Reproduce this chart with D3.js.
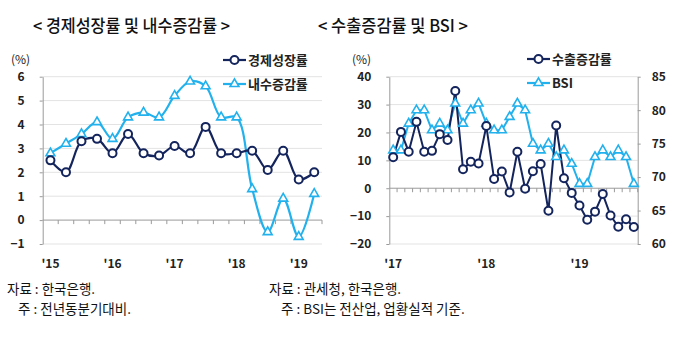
<!DOCTYPE html>
<html>
<head>
<meta charset="utf-8">
<script src="https://cdn.jsdelivr.net/npm/d3@7"></script>
<style>
  body { margin: 0; background: #fff; }
  svg { display: block; font-family: "Noto Sans CJK KR", "Noto Sans", sans-serif; }
</style>
</head>
<body>
<svg id="svg"></svg>
<script>
const width = 676, height = 337;

// left chart: quarterly, 2015Q1 ~ 2019Q2
const quarters = d3.range(18).map(i => `${2015 + Math.floor(i / 4)}Q${i % 4 + 1}`);
const gdpGrowth = [2.5, 2.0, 3.3, 3.4, 2.8, 3.6, 2.8, 2.7, 3.1, 2.8, 3.9, 2.8, 2.8, 2.9, 2.1, 2.9, 1.7, 2.0];
const domesticGrowth = [2.8, 3.2, 3.6, 4.1, 3.4, 4.3, 4.5, 4.3, 5.2, 5.8, 5.6, 4.3, 4.3, 1.3, -0.5, 0.9, -0.7, 1.1];
const leftYearLabels = ["'15", "'16", "'17", "'18", "'19"];
const leftYTicks = [-1, 0, 1, 2, 3, 4, 5, 6];

// right chart: monthly, 2017.1 ~ 2019.8
const months = d3.range(32).map(i => `${2017 + Math.floor(i / 12)}-${i % 12 + 1}`);
const exportGrowth = [11.1, 20.2, 13.1, 23.8, 13.1, 13.4, 19.4, 17.3, 34.9, 6.8, 9.5, 8.9,
                      22.3, 3.3, 6.0, -1.5, 13.1, -0.2, 6.1, 8.7, -8.1, 22.5, 3.6, -1.7,
                      -6.2, -11.3, -8.4, -2.1, -9.8, -13.8, -11.1, -13.9];
const bsi = [74, 74, 78, 80, 80, 77, 78, 77, 81, 78, 80, 81,
             78, 77, 77, 79, 81, 80, 75, 74, 75, 73, 74, 72,
             69, 69, 73, 74, 73, 74, 73, 69];
const rightYearLabels = ["'17", "'18", "'19"];
const rightYTicks = [-20, -10, 0, 10, 20, 30, 40];
const bsiTicks = [60, 65, 70, 75, 80, 85];

const navy = "#14245c", sky = "#22b1ec";
const gridColor = "#e3e3e3", axisColor = "#9a9a9a";

const svg = d3.select("#svg").attr("width", width).attr("height", height);

function title(x, len, str) {
    svg.append("text")
        .attr("x", x).attr("y", 32)
        .attr("font-size", 17).attr("font-weight", 500)
        .attr("textLength", len).attr("lengthAdjust", "spacingAndGlyphs")
        .attr("fill", "#111")
        .text(str);
}
title(33, 197, "< 경제성장률 및 내수증감률 >");
title(318, 150, "< 수출증감률 및 BSI >");

function triangle(g, x, y, color) {
    g.append("path")
        .attr("d", d3.symbol(d3.symbolTriangle, 34)())
        .attr("transform", `translate(${x},${y})`)
        .attr("fill", "#fff").attr("stroke", color).attr("stroke-width", 1.6);
}
function circle(g, x, y, color) {
    g.append("circle")
        .attr("cx", x).attr("cy", y).attr("r", 4)
        .attr("fill", "#fff").attr("stroke", color).attr("stroke-width", 2);
}

function drawChart(opt) {
    const x = d3.scaleBand().domain(opt.cats).range([opt.left, opt.right]);
    const y = d3.scaleLinear().domain(opt.yDomain).range([244, 76.7]);
    const g = svg.append("g");

    // gridlines
    g.append("g").selectAll("line")
        .data(opt.yTicks.filter(d => d !== 0))
        .join("line")
        .attr("x1", opt.left).attr("x2", opt.right)
        .attr("y1", d => y(d)).attr("y2", d => y(d))
        .attr("stroke", gridColor);

    // left axis
    const yAxis = g.append("g")
        .attr("transform", `translate(${opt.left},0)`)
        .call(d3.axisLeft(y).tickValues(opt.yTicks).tickFormat(d3.format("d"))
            .tickSize(3).tickPadding(15).tickSizeOuter(0));
    yAxis.select(".domain").attr("stroke", axisColor);
    yAxis.selectAll(".tick line").attr("stroke", axisColor);
    yAxis.selectAll("text").attr("font-size", 12).attr("font-weight", "bold").attr("fill", "#222")
        .attr("font-family", "'Noto Sans CJK KR', sans-serif");

    // zero line with category ticks
    const zeroY = y(0);
    g.append("line")
        .attr("x1", opt.left).attr("x2", opt.right)
        .attr("y1", zeroY).attr("y2", zeroY)
        .attr("stroke", axisColor);
    g.append("g").selectAll("line")
        .data(opt.cats)
        .join("line")
        .attr("x1", (d, i) => opt.left + (i + 1) * x.step())
        .attr("x2", (d, i) => opt.left + (i + 1) * x.step())
        .attr("y1", zeroY).attr("y2", zeroY + 4)
        .attr("stroke", axisColor);

    // year labels
    g.append("g").selectAll("text")
        .data(opt.yearLabels)
        .join("text")
        .attr("x", (d, i) => x(opt.cats[i * opt.perYear]) + x.bandwidth() / 2)
        .attr("y", 268)
        .attr("text-anchor", "middle")
        .attr("font-size", 12).attr("font-weight", "bold").attr("fill", "#222")
        .text(d => d);

    // unit
    g.append("text")
        .attr("x", opt.unitX).attr("y", 64)
        .attr("font-size", 12).attr("fill", "#222")
        .text("(%)");

    return { x, y, g };
}

// ---------- left chart ----------
const L = drawChart({
    cats: quarters, left: 42.7, right: 322, yDomain: [-1, 6], yTicks: leftYTicks,
    yearLabels: leftYearLabels, perYear: 4, unitX: 11
});
const lx = d => L.x(d) + L.x.bandwidth() / 2;

const leftLine = d3.line().curve(d3.curveCatmullRom.alpha(0.5));
L.g.append("path")
    .attr("d", leftLine(domesticGrowth.map((v, i) => [lx(quarters[i]), L.y(v)])))
    .attr("fill", "none").attr("stroke", sky).attr("stroke-width", 2.2);
L.g.append("path")
    .attr("d", leftLine(gdpGrowth.map((v, i) => [lx(quarters[i]), L.y(v)])))
    .attr("fill", "none").attr("stroke", navy).attr("stroke-width", 2.2);
domesticGrowth.forEach((v, i) => triangle(L.g, lx(quarters[i]), L.y(v), sky));
gdpGrowth.forEach((v, i) => circle(L.g, lx(quarters[i]), L.y(v), navy));

// ---------- right chart ----------
const R = drawChart({
    cats: months, left: 389.3, right: 637.7, yDomain: [-20, 40], yTicks: rightYTicks,
    yearLabels: rightYearLabels, perYear: 12, unitX: 352
});
const yBsi = d3.scaleLinear().domain([60, 85]).range([244, 76.7]);
const rAxis = R.g.append("g")
    .attr("transform", "translate(637.7,0)")
    .call(d3.axisRight(yBsi).tickValues(bsiTicks).tickSize(3).tickPadding(11).tickSizeOuter(0));
rAxis.select(".domain").attr("stroke", axisColor);
rAxis.selectAll(".tick line").attr("stroke", axisColor);
rAxis.selectAll("text").attr("font-size", 12).attr("font-weight", "bold").attr("fill", "#222")
    .attr("font-family", "'Noto Sans CJK KR', sans-serif");

const rx = d => R.x(d) + R.x.bandwidth() / 2;
R.g.append("path")
    .attr("d", d3.line()(bsi.map((v, i) => [rx(months[i]), yBsi(v)])))
    .attr("fill", "none").attr("stroke", sky).attr("stroke-width", 2);
R.g.append("path")
    .attr("d", d3.line()(exportGrowth.map((v, i) => [rx(months[i]), R.y(v)])))
    .attr("fill", "none").attr("stroke", navy).attr("stroke-width", 2);
bsi.forEach((v, i) => triangle(R.g, rx(months[i]), yBsi(v), sky));
exportGrowth.forEach((v, i) => circle(R.g, rx(months[i]), R.y(v), navy));

// ---------- legends ----------
function legend(x, y, label, color, marker) {
    const g = svg.append("g");
    g.append("line").attr("x1", x).attr("x2", x + 23).attr("y1", y).attr("y2", y)
        .attr("stroke", color).attr("stroke-width", 2.2);
    marker(g, x + 11.5, y, color);
    g.append("text").attr("x", x + 25).attr("y", y + 4.5)
        .attr("font-size", 13).attr("font-weight", "bold").attr("fill", "#222")
        .text(label);
}
legend(223, 60, "경제성장률", navy, circle);
legend(223, 84, "내수증감률", sky, triangle);
legend(527, 59, "수출증감률", navy, circle);
legend(527, 83, "BSI", sky, triangle);

// ---------- notes ----------
const notes = [
    [7, 294, "자료 : 한국은행."],
    [18, 314, "주 : 전년동분기대비."],
    [269, 294, "자료 : 관세청, 한국은행."],
    [281, 314, "주 : BSI는 전산업, 업황실적 기준."]
];
svg.append("g").selectAll("text")
    .data(notes)
    .join("text")
    .attr("x", d => d[0]).attr("y", d => d[1])
    .attr("font-size", 13.5).attr("fill", "#111")
    .text(d => d[2]);
</script>
</body>
</html>
